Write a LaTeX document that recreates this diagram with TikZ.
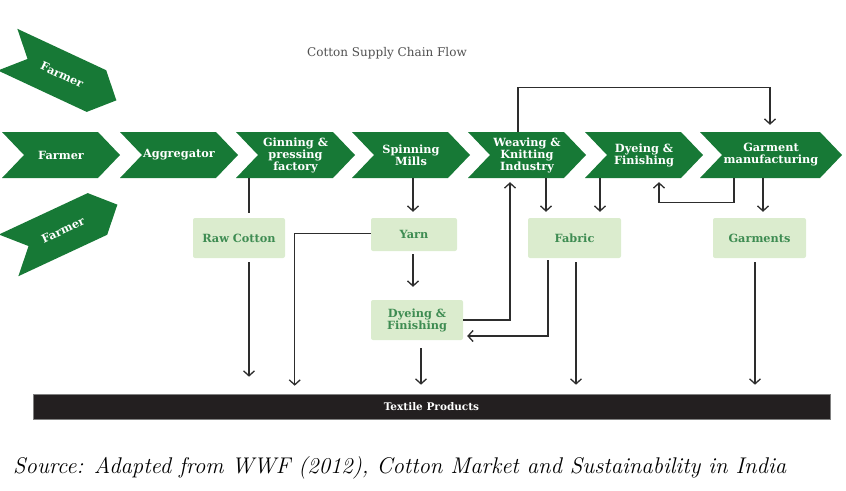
\documentclass[tikz,border=0pt]{standalone}
\usepackage{fontspec}
\newfontfamily\dv{DejaVu Serif}
\usetikzlibrary{arrows.meta,calc}
\definecolor{chevgreen}{RGB}{23,121,54}
\definecolor{boxfill}{RGB}{219,236,206}
\definecolor{boxtext}{RGB}{62,140,82}
\definecolor{lncol}{RGB}{45,45,45}
\definecolor{barblack}{RGB}{35,31,32}
\definecolor{titlecol}{RGB}{80,80,80}
\newcommand{\chevnode}[4]{%
  \fill[chevgreen] (#2,132) -- (#3,132) -- (#3+22,155) -- (#3,178) -- (#2,178) -- (#2+22,155) -- cycle;
  \node[chevtext, minimum width={#3-#2}] (#1) at ({(#2+#3)/2+11},155) {#4};
}
\begin{document}
\begin{tikzpicture}[x=1pt,y=-1pt,
  chevtext/.style={text=white, font=\dv\bfseries\fontsize{11.3}{12}\selectfont, align=center, inner sep=0pt, minimum height=46pt},
  boxnode/.style={fill=boxfill, rounded corners=2pt, text=boxtext, font=\dv\bfseries\fontsize{11.3}{12}\selectfont, align=center, inner sep=0pt},
  ln/.style={draw=lncol, line width=1.3pt},
  arr/.style={ln, -{Straight Barb[length=5pt,width=11pt,line width=1.3pt]}}
]
\useasboundingbox (0,0) rectangle (846,490);

% title
\node[font=\dv\fontsize{12}{14}\selectfont, text=titlecol] (title) at (387,53) {Cotton Supply Chain Flow};

% diagonal farmers
\begin{scope}[shift={(62,75)}, rotate=-25]
  \fill[chevgreen] (-60,-23) -- (38,-23) -- (60,0) -- (38,23) -- (-60,23) -- (-38,0) -- cycle;
  \node[chevtext, rotate=-25, minimum height=0pt] (farmerA) at (0,0) {Farmer};
\end{scope}
\begin{scope}[shift={(63,230)}, rotate=25]
  \fill[chevgreen] (-60,-23) -- (38,-23) -- (60,0) -- (38,23) -- (-60,23) -- (-38,0) -- cycle;
  \node[chevtext, rotate=25, minimum height=0pt] (farmerB) at (0,0) {Farmer};
\end{scope}

% main chain
\chevnode{farmer}{2}{98}{Farmer}
\chevnode{aggr}{120}{216}{Aggregator}
\chevnode{gin}{236}{333}{Ginning \&\\pressing\\factory}
\chevnode{spin}{352}{448}{Spinning\\Mills}
\chevnode{weave}{468}{564}{Weaving \&\\Knitting\\Industry}
\chevnode{dye}{585}{681}{Dyeing \&\\Finishing}
\chevnode{garm}{700}{820}{Garment\\manufacturing}

% products
\node[boxnode, minimum width=92pt, minimum height=40pt] (raw) at (239,238) {Raw Cotton};
\node[boxnode, minimum width=86pt, minimum height=33pt] (yarn) at (414,234.5) {Yarn};
\node[boxnode, minimum width=92pt, minimum height=40pt] (dyef) at (417,320) {Dyeing \&\\Finishing};
\node[boxnode, minimum width=93pt, minimum height=40pt] (fabric) at (574.5,238) {Fabric};
\node[boxnode, minimum width=93pt, minimum height=40pt] (garments) at (759.5,238) {Garments};

% bar
\node[fill=barblack, draw=gray, line width=0.6pt, minimum width=797pt, minimum height=25pt, inner sep=0pt,
      text=white, font=\dv\bfseries\fontsize{10.5}{12}\selectfont] (tp) at (431.5,406.5) {Textile Products};

% caption
\node[anchor=base west, inner sep=0pt, font=\fontsize{22.7}{26}\selectfont\itshape] (cap) at (13,473)
  {Source: Adapted from WWF (2012), Cotton Market and Sustainability in India};

% connectors
\draw[ln, shorten >=5pt] ([xshift=10pt]raw.north |- gin.south) -- ([xshift=10pt]raw.north);
\draw[arr, shorten <=4pt, shorten >=17pt] ([xshift=10pt]raw.south) -- ([xshift=10pt]raw.south |- tp.north);
\draw[arr, shorten >=8pt] ([yshift=1pt]yarn.west) -| ($(tp.north west)+(262,0)$);
\draw[arr, shorten >=6pt] ([xshift=-1pt]yarn.north |- spin.south) -- ([xshift=-1pt]yarn.north);
\draw[arr, shorten <=3pt, shorten >=13pt] ([xshift=-1pt]yarn.south) -- ([xshift=-1pt]yarn.south |- dyef.north);
\draw[arr, shorten <=8pt, shorten >=9pt] ([xshift=4pt]dyef.south) -- ([xshift=4pt]dyef.south |- tp.north);
\draw[arr, shorten >=4pt] (dyef.east) -| ([xshift=-17pt]weave.south);
\draw[arr, shorten <=2pt, shorten >=4pt] ([xshift=-26.5pt]fabric.south) |- ([yshift=-16pt]dyef.east);
\draw[arr, shorten <=4pt, shorten >=9pt] ([xshift=1.5pt]fabric.south) -- ([xshift=1.5pt]fabric.south |- tp.north);
\draw[arr, shorten >=6pt] ([xshift=-28.5pt]fabric.north |- weave.south) -- ([xshift=-28.5pt]fabric.north);
\draw[arr, shorten >=6pt] ([xshift=25.5pt]fabric.north |- dye.south) -- ([xshift=25.5pt]fabric.north);
\draw[arr, shorten >=4pt] ([xshift=-37pt]garm.south) -- ++(0,24) -| ([xshift=15pt]dye.south);
\draw[arr, shorten >=6pt] ([xshift=3.5pt]garments.north |- garm.south) -- ([xshift=3.5pt]garments.north);
\draw[arr, shorten <=4pt, shorten >=9pt] ([xshift=-4.5pt]garments.south) -- ([xshift=-4.5pt]garments.south |- tp.north);
\draw[arr, shorten >=7pt] ([xshift=-9pt]weave.north) -- ++(0,-44) -| ([xshift=-1pt]garm.north);
\end{tikzpicture}
\end{document}
